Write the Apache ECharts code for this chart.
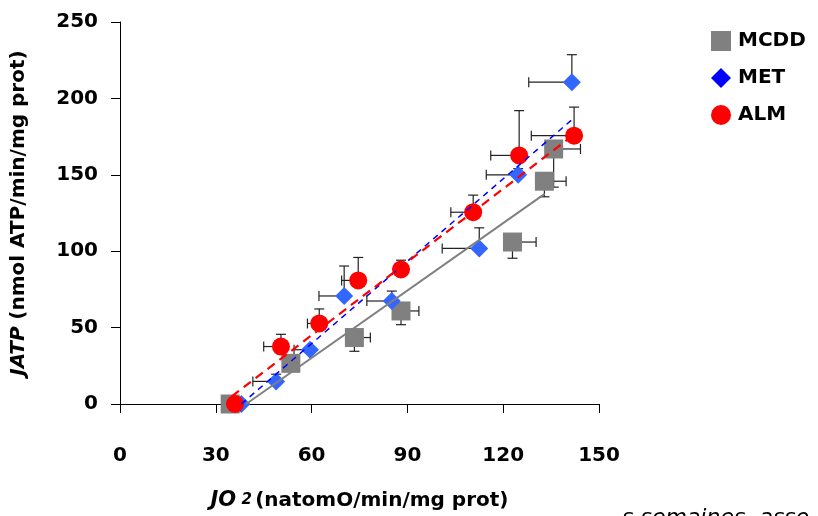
<!DOCTYPE html>
<html>
<head>
<meta charset="utf-8">
<script src="https://cdn.jsdelivr.net/npm/echarts@6/dist/echarts.min.js"></script>
<style>
  html, body { margin: 0; padding: 0; background: #fff; }
  #chart { width: 818px; height: 516px; }
</style>
</head>
<body>
<div id="chart"></div>
<script>
// Respiration coupling: ATP synthesis rate vs oxygen consumption
const xTicks = [0, 30, 60, 90, 120, 150];
const yTicks = [0, 50, 100, 150, 200, 250];

// MCDD group (error bars: JO2 to the right, JATP downward)
const mcddX    = [34.5, 53.5, 73.4, 88.0, 122.9, 132.9, 135.8];
const mcddY    = [0,    26.6, 43.5, 60.9, 106.0, 145.8, 166.9];
const mcddXErr = [0,    2,    5,    5.6,  7.4,   6.8,   8.4];
const mcddYErr = [0,    3,    9,    9,    10.6,  10.2,  25];

// MET group (error bars: JO2 to the left, JATP upward)
const metX    = [38.0, 48.9, 59.5, 70.2, 85.1, 112.5, 124.7, 141.5];
const metY    = [0,    14.8, 35.5, 70.7, 67.4, 101.8, 150.0, 210.6];
const metXErr = [0,    7.3,  5,    7.9,  7.8,  11.6,  10.0,  13.5];
const metYErr = [0,    4.7,  2,    19.6, 6.5,  13.5,  4,     18];

// ALM group (error bars: JO2 to the left, JATP upward)
const almX    = [36.0, 50.4, 62.4, 74.6, 88.0, 110.6, 125.0, 142.2];
const almY    = [0,    37.6, 52.7, 80.9, 88.1, 125.5, 162.7, 175.6];
const almXErr = [0,    5.4,  3.7,  5.2,  2,    7.0,   8.9,   13.4];
const almYErr = [0,    8,    9.5,  15,   6,    11.2,  29.3,  18.7];

// Linear trend segments (start and end points)
const mcddTrend = [[39.5, 0], [133, 137.5]];
const metTrend  = [[38, 0], [141.5, 186]];
const almTrend  = [[35, 5], [142, 176]];

const FONT = '"DejaVu Sans", Verdana, sans-serif';

function pts(xs, ys, xe, ye) {
  return xs.map((x, i) => [x, ys[i], xe[i], ye[i]]);
}

// Half error bars with caps; dx/dy give the direction (+1 or -1)
function errorSeries(name, data, dx, dy) {
  return {
    type: 'custom',
    name: name,
    silent: true,
    z: 1,
    data: data,
    renderItem: function (params, api) {
      const x = api.value(0), y = api.value(1);
      const ex = api.value(2), ey = api.value(3);
      const c = api.coord([x, y]);
      const children = [];
      const cap = 5;
      const style = { stroke: '#222', lineWidth: 1.2 };
      if (ex > 0) {
        const e = api.coord([x + dx * ex, y]);
        children.push({ type: 'line', shape: { x1: c[0], y1: c[1], x2: e[0], y2: e[1] }, style: style });
        children.push({ type: 'line', shape: { x1: e[0], y1: e[1] - cap, x2: e[0], y2: e[1] + cap }, style: style });
      }
      if (ey > 0) {
        const e = api.coord([x, y + dy * ey]);
        children.push({ type: 'line', shape: { x1: c[0], y1: c[1], x2: e[0], y2: e[1] }, style: style });
        children.push({ type: 'line', shape: { x1: e[0] - cap, y1: e[1], x2: e[0] + cap, y2: e[1] }, style: style });
      }
      return { type: 'group', children: children };
    }
  };
}

function zip(xs, ys) { return xs.map((x, i) => [x, ys[i]]); }

const chart = echarts.init(document.getElementById('chart'), null, { renderer: 'canvas' });

chart.setOption({
  animation: false,
  backgroundColor: '#ffffff',
  grid: { left: 120, right: 219, top: 22, bottom: 111, containLabel: false },
  xAxis: {
    type: 'value',
    min: xTicks[0], max: xTicks[xTicks.length - 1], interval: 30,
    axisLine: { onZero: false, lineStyle: { color: '#000', width: 1 } },
    axisTick: { show: true, inside: false, length: 9, lineStyle: { color: '#000' } },
    splitLine: { show: false },
    axisLabel: { margin: 42, color: '#000', fontFamily: FONT, fontWeight: 'bold', fontSize: 20 },
    name: '{i|JO}{s| 2} {n|(natomO/min/mg prot)}',
    nameLocation: 'middle',
    nameGap: 86,
    nameTextStyle: {
      rich: {
        i: { fontFamily: FONT, fontStyle: 'italic', fontWeight: 'bold', fontSize: 21, color: '#000' },
        s: { fontFamily: FONT, fontStyle: 'italic', fontWeight: 'bold', fontSize: 15, color: '#000' },
        n: { fontFamily: FONT, fontWeight: 'bold', fontSize: 20, color: '#000' }
      }
    }
  },
  yAxis: {
    type: 'value',
    min: yTicks[0], max: yTicks[yTicks.length - 1], interval: 50,
    axisLine: { show: true, onZero: false, lineStyle: { color: '#000', width: 1 } },
    axisTick: { show: true, inside: false, length: 9, lineStyle: { color: '#000' } },
    splitLine: { show: false },
    axisLabel: { margin: 22, color: '#000', fontFamily: FONT, fontWeight: 'bold', fontSize: 20 },
    name: '{i|JATP}  {n|(nmol ATP/min/mg prot)}',
    nameLocation: 'middle',
    nameGap: 91,
    nameRotate: 90,
    nameTextStyle: {
      rich: {
        i: { fontFamily: FONT, fontStyle: 'italic', fontWeight: 'bold', fontSize: 20, color: '#000' },
        n: { fontFamily: FONT, fontWeight: 'bold', fontSize: 20, color: '#000' }
      }
    }
  },
  legend: {
    orient: 'vertical',
    left: 706,
    top: 26,
    itemWidth: 20,
    itemHeight: 20,
    itemGap: 17,
    textStyle: { fontFamily: FONT, fontWeight: 'bold', fontSize: 20, color: '#000', padding: [0, 0, 0, 2] },
    data: [
      { name: 'MCDD', icon: 'rect', itemStyle: { color: '#808080', opacity: 1 } },
      { name: 'MET', icon: 'diamond', itemStyle: { color: '#0000ff', opacity: 1 } },
      { name: 'ALM', icon: 'circle', itemStyle: { color: '#ff0000', opacity: 1 } }
    ]
  },
  graphic: [{
    type: 'text',
    x: 622,
    y: 529,
    silent: true,
    style: {
      text: 's semaines, asso',
      fontFamily: FONT,
      fontStyle: 'italic',
      fontSize: 22,
      verticalAlign: 'bottom',
      fill: '#000'
    }
  }],
  series: [
    errorSeries('mcddErr', pts(mcddX, mcddY, mcddXErr, mcddYErr), 1, -1),
    errorSeries('metErr', pts(metX, metY, metXErr, metYErr), -1, 1),
    errorSeries('almErr', pts(almX, almY, almXErr, almYErr), -1, 1),
    {
      type: 'scatter', name: 'MCDD', z: 2,
      symbol: 'rect', symbolSize: 19,
      itemStyle: { color: '#808080', opacity: 1 },
      data: zip(mcddX, mcddY)
    },
    {
      type: 'scatter', name: 'MET', z: 3,
      symbol: 'diamond', symbolSize: 18,
      itemStyle: { color: '#3366ff', opacity: 1 },
      data: zip(metX, metY)
    },
    {
      type: 'scatter', name: 'ALM', z: 4,
      symbol: 'circle', symbolSize: 18,
      itemStyle: { color: '#ff0000', opacity: 1 },
      data: zip(almX, almY)
    },
    {
      type: 'line', name: 'mcddTrend', z: 5, silent: true,
      showSymbol: false, symbol: 'none',
      lineStyle: { color: '#808080', width: 2, type: 'solid' },
      data: mcddTrend
    },
    {
      type: 'line', name: 'metTrend', z: 5, silent: true,
      showSymbol: false, symbol: 'none',
      lineStyle: { color: '#0000ff', width: 1.5, type: [6, 5] },
      data: metTrend
    },
    {
      type: 'line', name: 'almTrend', z: 6, silent: true,
      showSymbol: false, symbol: 'none',
      lineStyle: { color: '#ff0000', width: 2.2, type: [9, 6] },
      data: almTrend
    }
  ]
});
</script>
</body>
</html>
